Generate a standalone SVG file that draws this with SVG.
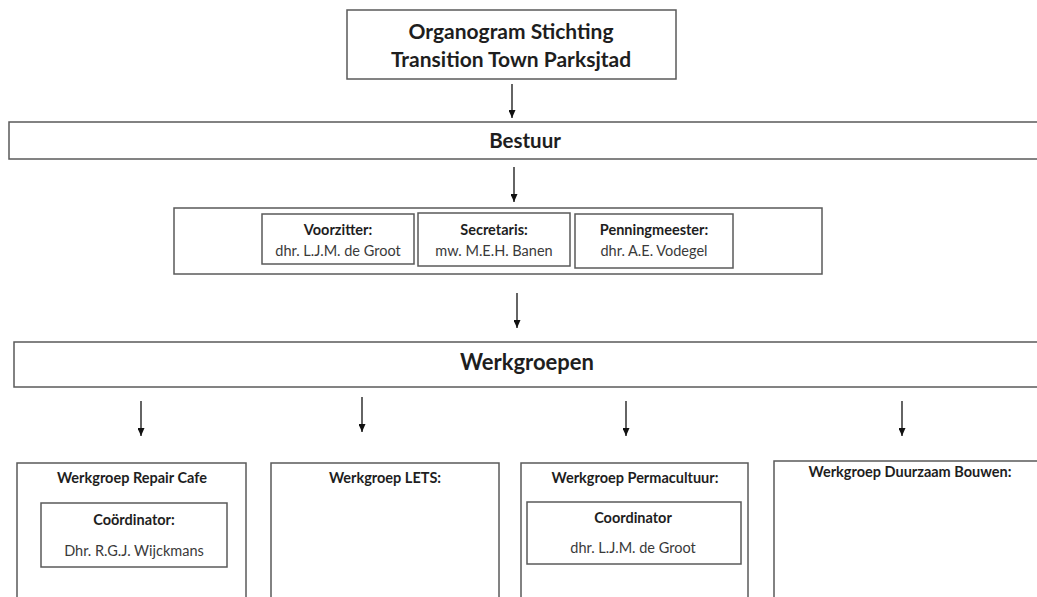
<svg xmlns="http://www.w3.org/2000/svg" width="1037" height="597" viewBox="0 0 1037 597">
<style>
.box{fill:#fff;stroke:#5a5a5a;stroke-width:1.5}
.t{font-family:Lato,"Open Sans",sans-serif;font-weight:bold;fill:#1e1e1e;text-anchor:middle}
.r{font-family:Lato,"Open Sans",sans-serif;fill:#3a3a3a;text-anchor:middle}
.s{font-size:14.5px}
.c{stroke:#111;stroke-width:1.3;fill:none;marker-end:url(#ah)}
</style>
<defs>
<marker id="ah" markerWidth="8" markerHeight="7" refX="8" refY="3.5" orient="auto" markerUnits="userSpaceOnUse" viewBox="0 0 8 7">
<path d="M0,0 L8,3.5 L0,7 Z" fill="#111"/>
</marker>
</defs>
<rect width="1037" height="597" fill="#fff"/>
<g id="title">
<rect class="box" x="347" y="10" width="329" height="69"/>
<text class="t" x="511" y="39" font-size="21">Organogram Stichting</text>
<text class="t" x="511" y="67" font-size="21">Transition Town Parksjtad</text>
</g>
<g id="bestuur">
<rect class="box" x="9" y="122" width="1040" height="37"/>
<text class="t" x="525" y="148" font-size="20.5">Bestuur</text>
</g>
<g id="bestuursleden">
<rect class="box" x="174" y="208" width="648" height="66"/>
</g>
<g id="voorzitter">
<rect class="box" x="262" y="214" width="152" height="50"/>
<text class="t s" x="338" y="235">Voorzitter:</text>
<text class="r s" x="338" y="256">dhr. L.J.M. de Groot</text>
</g>
<g id="secretaris">
<rect class="box" x="418" y="213" width="152" height="53"/>
<text class="t s" x="494" y="235">Secretaris:</text>
<text class="r s" x="494" y="256">mw. M.E.H. Banen</text>
</g>
<g id="penningmeester">
<rect class="box" x="575" y="214" width="158" height="54"/>
<text class="t s" x="654" y="235">Penningmeester:</text>
<text class="r s" x="654" y="256">dhr. A.E. Vodegel</text>
</g>
<g id="werkgroepen">
<rect class="box" x="14" y="342" width="1040" height="45"/>
<text class="t" x="527" y="370" font-size="22">Werkgroepen</text>
</g>
<g id="repaircafe">
<rect class="box" x="17" y="463" width="229" height="150"/>
<text class="t s" x="132" y="483">Werkgroep Repair Cafe</text>
<rect class="box" x="41" y="503" width="186" height="64"/>
<text class="t s" x="134" y="525">Coördinator:</text>
<text class="r s" x="134" y="556">Dhr. R.G.J. Wijckmans</text>
</g>
<g id="lets">
<rect class="box" x="271" y="463" width="228" height="150"/>
<text class="t s" x="385" y="483">Werkgroep LETS:</text>
</g>
<g id="permacultuur">
<rect class="box" x="521" y="463" width="227" height="150"/>
<text class="t s" x="635" y="483">Werkgroep Permacultuur:</text>
<rect class="box" x="527" y="502" width="214" height="62"/>
<text class="t s" x="633" y="523">Coordinator</text>
<text class="r s" x="633" y="553">dhr. L.J.M. de Groot</text>
</g>
<g id="duurzaambouwen">
<rect class="box" x="774" y="461" width="280" height="150"/>
<text class="t s" x="910" y="477">Werkgroep Duurzaam Bouwen:</text>
</g>
<g id="connectors">
<line class="c" x1="512" y1="84" x2="512" y2="118"/>
<line class="c" x1="514" y1="167" x2="514" y2="202"/>
<line class="c" x1="517" y1="293" x2="517" y2="328"/>
<line class="c" x1="141" y1="401" x2="141" y2="436"/>
<line class="c" x1="362" y1="397" x2="362" y2="432"/>
<line class="c" x1="626" y1="401" x2="626" y2="436"/>
<line class="c" x1="902" y1="401" x2="902" y2="436"/>
</g>
</svg>
